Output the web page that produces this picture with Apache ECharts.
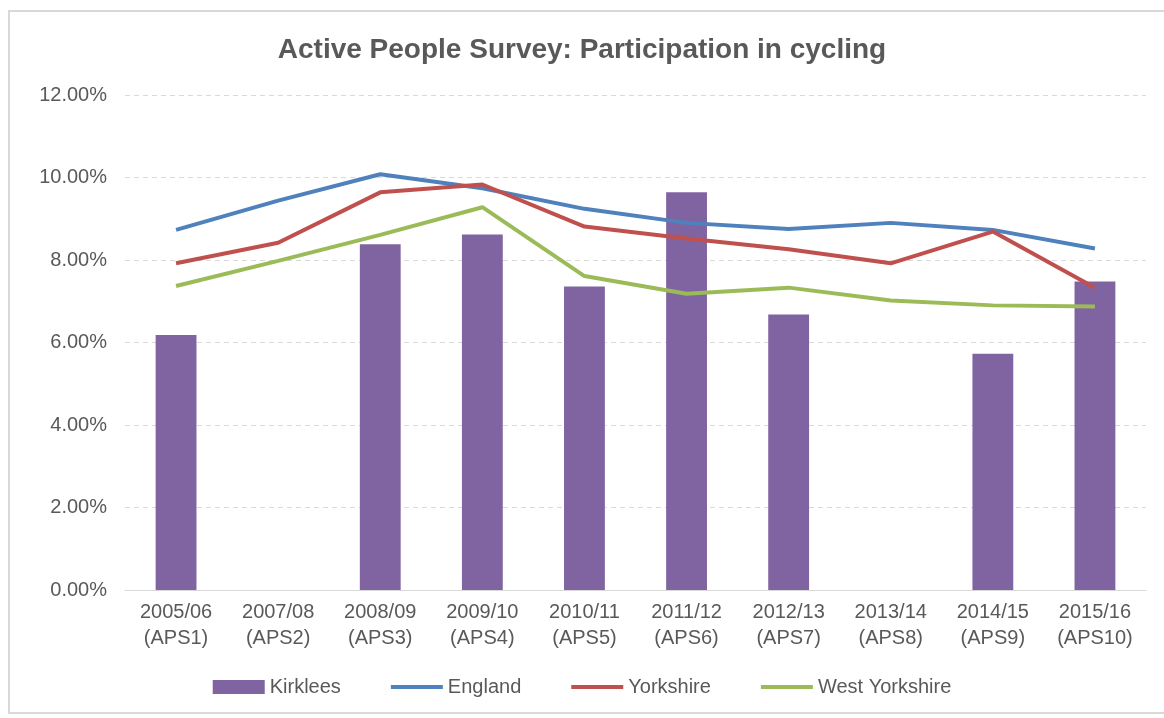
<!DOCTYPE html>
<html>
<head>
<meta charset="utf-8">
<script src="https://cdn.jsdelivr.net/npm/echarts@6/dist/echarts.min.js"></script>
<style>
  html, body { margin: 0; padding: 0; background: #fff; }
  #frame {
    position: absolute; left: 8px; top: 10px; width: 1160px; height: 704px;
    border: 2px solid #d9d9d9; box-sizing: border-box;
  }
  #main { position: absolute; left: 0; top: 0; width: 1164px; height: 718px; }
</style>
</head>
<body>
<div id="frame"></div>
<div id="main"></div>
<script>
// categories (two-line labels)
var categories = ['2005/06\n(APS1)', '2007/08\n(APS2)', '2008/09\n(APS3)', '2009/10\n(APS4)', '2010/11\n(APS5)',
  '2011/12\n(APS6)', '2012/13\n(APS7)', '2013/14\n(APS8)', '2014/15\n(APS9)', '2015/16\n(APS10)'];

// values in percent
var kirklees = [6.18, null, 8.38, 8.62, 7.36, 9.64, 6.68, null, 5.73, 7.48];
var england = [8.73, 9.44, 10.08, 9.74, 9.24, 8.90, 8.75, 8.90, 8.73, 8.28];
var yorkshire = [7.92, 8.42, 9.64, 9.83, 8.81, 8.52, 8.26, 7.92, 8.69, 7.33];
var westYorkshire = [7.37, 7.98, 8.61, 9.28, 7.61, 7.18, 7.33, 7.02, 6.90, 6.87];

var myChart = echarts.init(document.getElementById('main'));

// thin bar used as the legend icon of the line series
var lineIcon = 'path://M0,0 L52,0 L52,4 L0,4 Z';

var lineSeries = function (name, data, color) {
  return {
    name: name,
    type: 'line',
    data: data,
    symbol: 'none',
    lineStyle: { width: 4, color: color },
    itemStyle: { color: color }
  };
};

var option = {
  animation: false,
  textStyle: { fontFamily: 'Liberation Sans, Arial, sans-serif' },
  title: {
    text: 'Active People Survey: Participation in cycling',
    left: 'center',
    top: 31,
    textStyle: { fontSize: 28, fontWeight: 'bold', color: '#595959' }
  },
  grid: { left: 125, right: 18, top: 95, bottom: 128 },
  legend: {
    bottom: 16,
    left: 'center',
    itemWidth: 52,
    itemHeight: 14,
    itemGap: 50,
    textStyle: { fontSize: 20, color: '#595959' },
    data: [
      { name: 'Kirklees', icon: 'rect' },
      { name: 'England', icon: lineIcon },
      { name: 'Yorkshire', icon: lineIcon },
      { name: 'West Yorkshire', icon: lineIcon }
    ]
  },
  xAxis: {
    type: 'category',
    data: categories,
    axisTick: { show: false },
    axisLine: { lineStyle: { color: '#d9d9d9', width: 1 } },
    axisLabel: { color: '#595959', fontSize: 20, lineHeight: 26, margin: 9, interval: 0 }
  },
  yAxis: {
    type: 'value',
    min: 0,
    max: 12,
    interval: 2,
    axisLine: { show: false },
    axisTick: { show: false },
    axisLabel: {
      color: '#595959', fontSize: 20, margin: 18,
      formatter: function (v) { return v.toFixed(2) + '%'; }
    },
    splitLine: { lineStyle: { color: '#d9d9d9', type: [5, 4], width: 1 } }
  },
  series: [
    {
      name: 'Kirklees',
      type: 'bar',
      data: kirklees,
      barWidth: '40%',
      itemStyle: { color: '#8064A2' }
    },
    lineSeries('England', england, '#4F81BD'),
    lineSeries('Yorkshire', yorkshire, '#C0504D'),
    lineSeries('West Yorkshire', westYorkshire, '#9BBB59')
  ]
};

myChart.setOption(option);
</script>
</body>
</html>
